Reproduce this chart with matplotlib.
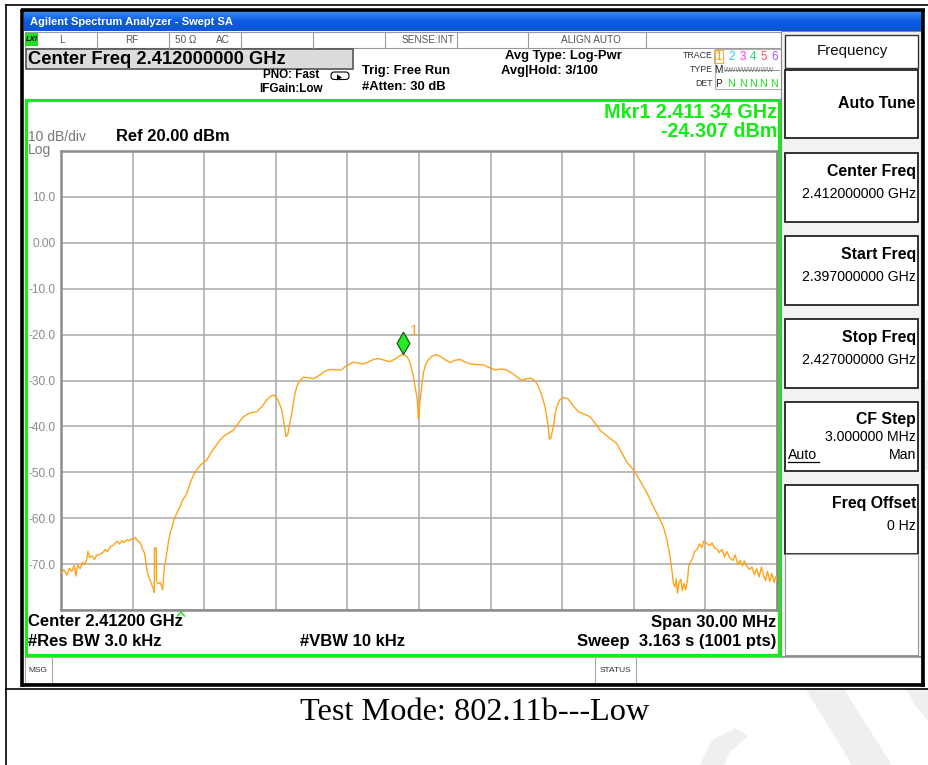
import matplotlib
matplotlib.use("Agg")
import matplotlib.pyplot as plt
import numpy as np
from matplotlib.patches import Rectangle, FancyBboxPatch, Polygon
from matplotlib.markers import MarkerStyle
from matplotlib.colors import LinearSegmentedColormap

plt.rcParams['font.family'] = ['Liberation Sans', 'DejaVu Sans']

W, H = 929, 765

START_MHZ = 2397.0
STOP_MHZ = 2427.0
REF_DBM = 20.0
DB_PER_DIV = 10.0

# swept trace, offset from start frequency (MHz) and level (dBm)
trace_offset_mhz = [
    0.00, 0.12, 0.25, 0.35, 0.45, 0.55, 0.62, 0.70, 0.80, 0.90, 1.00, 1.08, 1.13, 1.20,
    1.30, 1.40, 1.50, 1.62, 1.75, 1.85, 1.95, 2.05, 2.15, 2.25, 2.35, 2.45, 2.55, 2.65,
    2.75, 2.85, 2.95, 3.05, 3.12, 3.22, 3.32, 3.42, 3.50, 3.58, 3.65, 3.72, 3.80, 3.88,
    3.91, 3.92, 3.99, 4.00, 4.08, 4.15, 4.22, 4.26, 4.30, 4.34, 4.38, 4.42, 4.50, 4.58,
    4.64, 4.72, 4.80, 4.90, 4.99, 5.10, 5.20, 5.27, 5.40, 5.55, 5.69, 5.85, 6.00, 6.11,
    6.25, 6.45, 6.66, 6.85, 7.05, 7.22, 7.40, 7.64, 7.90, 8.20, 8.40, 8.62, 8.80, 8.90,
    9.00, 9.10, 9.25, 9.35, 9.43, 9.50, 9.58, 9.67, 9.78, 9.88, 10.00, 10.15, 10.35, 10.57,
    10.72, 10.85, 11.05, 11.27, 11.50, 11.76, 11.90, 12.04, 12.25, 12.45, 12.67, 12.90, 13.10, 13.29,
    13.50, 13.78, 14.00, 14.20, 14.34, 14.50, 14.62, 14.76, 14.86, 14.93, 14.97, 15.00, 15.03, 15.07,
    15.12, 15.18, 15.28, 15.39, 15.52, 15.67, 15.85, 16.05, 16.30, 16.50, 16.72, 16.90, 17.14, 17.40,
    17.69, 17.95, 18.18, 18.45, 18.67, 18.95, 19.30, 19.50, 19.72, 19.88, 20.00, 20.15, 20.28, 20.40,
    20.47, 20.52, 20.63, 20.70, 20.77, 20.90, 21.05, 21.25, 21.45, 21.68, 21.95, 22.17, 22.38, 22.58,
    22.90, 23.28, 23.50, 23.70, 24.05, 24.20, 24.40, 24.60, 24.82, 25.05, 25.24, 25.38, 25.52, 25.60,
    25.66, 25.72, 25.78, 25.83, 25.90, 25.97, 26.03, 26.10, 26.17, 26.25, 26.30, 26.35, 26.45, 26.55,
    26.64, 26.75, 26.85, 26.92, 26.98, 27.08, 27.18, 27.28, 27.38, 27.47, 27.58, 27.70, 27.80, 27.90,
    28.03, 28.15, 28.25, 28.35, 28.45, 28.55, 28.63, 28.73, 28.85, 28.95, 29.05, 29.15, 29.25, 29.35,
    29.43, 29.52, 29.60, 29.70, 29.78, 29.88, 29.95, 30.00,
]
trace_dbm = [
    -72.0, -71.2, -72.4, -70.9, -71.6, -70.3, -72.6, -70.2, -71.0, -69.6, -70.1, -68.9, -67.2, -68.6,
    -68.2, -69.0, -68.0, -67.9, -67.5, -66.8, -67.3, -66.3, -66.0, -65.6, -65.0, -65.6, -64.9, -65.3,
    -64.7, -64.9, -64.5, -64.6, -64.2, -65.0, -65.3, -66.8, -67.6, -70.5, -72.5, -73.3, -74.5, -75.5,
    -76.2, -66.5, -66.5, -73.8, -74.3, -74.0, -74.8, -75.6, -72.5, -70.0, -69.6, -68.0, -65.2, -63.0,
    -62.2, -60.6, -59.5, -58.4, -57.5, -56.0, -55.3, -54.6, -52.5, -50.6, -49.5, -48.4, -47.8, -47.3,
    -46.0, -44.5, -43.0, -42.0, -41.4, -40.8, -39.5, -37.9, -37.1, -36.8, -35.8, -34.2, -33.4, -33.2,
    -33.5, -34.4, -36.4, -39.5, -42.2, -41.8, -39.5, -37.1, -33.5, -31.3, -30.0, -29.3, -29.4, -29.6,
    -29.2, -28.8, -28.0, -27.6, -27.7, -27.7, -27.0, -26.6, -26.0, -26.2, -26.4, -25.9, -25.4, -25.2,
    -25.5, -25.9, -25.3, -24.6, -24.307, -24.8, -26.0, -29.0, -32.0, -34.2, -38.3, -38.3, -35.0, -33.5,
    -31.0, -28.4, -26.5, -25.5, -24.8, -24.4, -24.6, -25.3, -26.1, -25.6, -25.4, -25.9, -26.4, -26.5,
    -26.6, -27.2, -27.7, -27.5, -27.7, -28.6, -30.0, -29.6, -29.5, -30.2, -31.3, -33.3, -35.7, -39.5,
    -42.8, -42.6, -40.0, -37.5, -35.7, -34.2, -33.7, -34.0, -35.5, -36.8, -37.4, -37.9, -39.3, -40.8,
    -42.2, -43.7, -45.8, -47.7, -49.9, -51.3, -53.1, -55.0, -57.5, -59.8, -61.9, -64.5, -68.4, -71.5,
    -74.2, -75.0, -73.2, -76.3, -74.0, -73.3, -75.8, -74.2, -75.6, -73.5, -70.5, -69.8, -68.9, -67.2,
    -66.9, -65.6, -66.4, -65.0, -65.1, -65.6, -66.0, -65.4, -66.5, -66.6, -67.5, -66.8, -68.4, -67.3,
    -68.7, -69.2, -68.0, -70.1, -69.2, -70.4, -69.3, -70.4, -71.2, -70.6, -72.3, -71.0, -72.8, -70.6,
    -72.4, -73.6, -71.5, -73.8, -72.0, -74.0, -72.8, -73.5,
]

mkr_freq_mhz = 2411.34
mkr_dbm = -24.307

y_tick_dbm = [20, 10, 0, -10, -20, -30, -40, -50, -60, -70, -80]
y_tick_labels = ["", "10.0", "0.00", "-10.0", "-20.0", "-30.0", "-40.0", "-50.0", "-60.0", "-70.0", ""]

status_labels = ["L", "RF", "50 \u03a9", "AC", "SENSE:INT", "ALIGN AUTO"]
trace_numbers = ["1", "2", "3", "4", "5", "6"]
trace_colors = ["#ff9900", "#22c8ff", "#ff33ff", "#22dd77", "#ff5555", "#9955ff"]

softkey_titles = ["Auto Tune", "Center Freq", "Start Freq", "Stop Freq", "CF Step", "Freq Offset"]
softkey_values = [None, "2.412000000 GHz", "2.397000000 GHz", "2.427000000 GHz", "3.000000 MHz", "0 Hz"]

GREEN = "#11ee11"
ORANGE = "#ffa31a"


def rect(bg, x0, y0, x1, y1, **kw):
    bg.add_patch(Rectangle((x0, y0), x1 - x0, y1 - y0, **kw))


def draw_page(bg):
    # watermark behind the page
    wm = dict(closed=True, color="#efefef", lw=0, zorder=0)
    bg.add_patch(Polygon([(805, 688), (843, 688), (892, 765), (852, 765)], **wm))
    bg.add_patch(Polygon([(700, 765), (712, 740), (735, 728), (748, 736), (730, 752), (724, 765)], **wm))
    bg.add_patch(Polygon([(905, 688), (929, 688), (929, 722), (915, 705)], **wm))
    bg.add_patch(Polygon([(925, 380), (929, 380), (929, 470), (925, 470)], **wm))
    # table lines
    bg.plot([6.5, 6.5], [5, 765], color="black", lw=1.2, zorder=1)
    bg.plot([6, 929], [5, 5], color="black", lw=1.2, zorder=1)
    bg.plot([6, 929], [688.5, 688.5], color="black", lw=1.2, zorder=1)
    bg.text(474.5, 712, "Test Mode: 802.11b---Low", ha="center", va="center",
            fontsize=23.2, family="Liberation Serif", color="black", zorder=2)


def draw_window(bg):
    rect(bg, 21, 9, 925, 687, facecolor="white", edgecolor="none", zorder=2)
    # title bar
    grad = np.linspace(0, 1, 20).reshape(-1, 1)
    xp = LinearSegmentedColormap.from_list("xp", ["#3d8cf4", "#0a5be0", "#0b55d4"])
    bg.imshow(grad, extent=(24, 922, 31, 11), cmap=xp, aspect="auto", zorder=3)
    bg.text(30, 21.5, "Agilent Spectrum Analyzer - Swept SA", color="white", fontsize=8.0,
            fontweight="bold", va="center", ha="left", zorder=4)
    # thick black frame
    for xs, ys in [([22.5, 22.5], [9, 687]), ([923.5, 923.5], [9, 687]),
                   ([21, 925], [685, 685]), ([21, 925], [10, 10])]:
        bg.plot(xs, ys, color="black", lw=2.6, zorder=5, solid_capstyle="butt")

    # status row
    rect(bg, 25, 32, 781, 47.5, facecolor="white", edgecolor="#9a9a9a", lw=0.8, zorder=3)
    for x in [97, 169, 241, 313, 385, 457, 528, 646]:
        bg.plot([x, x], [32, 47.5], color="#9a9a9a", lw=0.8, zorder=4)
    rect(bg, 25.5, 33, 38.5, 45.5, facecolor="#22dd22", edgecolor="none", zorder=4)
    bg.text(32, 39.5, "LXI", fontsize=5.5, fontweight="bold", style="italic", ha="center",
            va="center", zorder=5)
    for label, x in zip(status_labels, [62, 132, 186, 223, 428, 591]):
        bg.text(x, 40, label, fontsize=7.2, color="#555555", ha="center", va="center", zorder=4)

    # center frequency entry box
    rect(bg, 26, 49, 353, 68.5, facecolor="#dcdcdc", edgecolor="#555555", lw=1.2, zorder=3)
    bg.text(28.5, 59, "Center Freq 2.412000000 GHz", fontsize=13.2, fontweight="bold",
            ha="left", va="center", zorder=4)

    # acquisition settings
    bold = dict(fontweight="bold", zorder=4, va="center")
    bg.text(319, 75, "PNO: Fast", fontsize=8.4, ha="right", **bold)
    bg.text(323, 88.5, "IFGain:Low", fontsize=8.4, ha="right", **bold)
    bg.add_patch(FancyBboxPatch((331, 72), 18, 7.5, boxstyle="round,pad=0,rounding_size=3.5",
                                facecolor="white", edgecolor="black", lw=0.8, zorder=4))
    bg.add_patch(Polygon([(337, 74.5), (342, 77.5), (337, 80.5)], closed=True,
                         facecolor="black", zorder=5))
    bg.text(362, 71, "Trig: Free Run", fontsize=9.4, ha="left", **bold)
    bg.text(362, 87, "#Atten: 30 dB", fontsize=9.4, ha="left", **bold)
    bg.text(505, 56, "Avg Type: Log-Pwr", fontsize=9.4, ha="left", **bold)
    bg.text(501, 70.5, "Avg|Hold: 3/100", fontsize=9.4, ha="left", **bold)

    # trace / detector block
    for label, y in [("TRACE", 55.5), ("TYPE", 69.5), ("DET", 83.5)]:
        bg.text(712.5, y, label, fontsize=6.3, color="#333333", ha="right", va="center", zorder=4)
    rect(bg, 715, 48.5, 781, 89, facecolor="white", edgecolor="#b0b0b0", lw=0.8, zorder=3)
    num_x = [718.5, 731.5, 743, 753, 763.5, 774.5]
    for label, color, x in zip(trace_numbers, trace_colors, num_x):
        bg.text(x, 57, label, fontsize=8.4, color=color, ha="center", va="center", zorder=4)
    rect(bg, 714.5, 49.5, 723, 63, facecolor="none", edgecolor="#ffaa33", lw=0.8, zorder=4)
    bg.text(718.5, 70, "M", fontsize=7.2, color="#222222", ha="center", va="center", zorder=4)
    bg.text(724, 70, "WWWWWWWW", fontsize=4.8, color="#777777", ha="left", va="center", zorder=4)
    bg.plot([724, 779], [70, 70], color="#777777", lw=0.6, zorder=4)
    bg.text(718.5, 83.5, "P", fontsize=7.2, color="#222222", ha="center", va="center", zorder=4)
    for x in num_x[1:]:
        bg.text(x, 83.5, "N", fontsize=7.8, color="#22dd22", ha="center", va="center", zorder=4)


def draw_softkeys(bg):
    rect(bg, 781, 31, 921, 656, facecolor="#f2f2f2", edgecolor="#888888", lw=0.8, zorder=3)
    rect(bg, 785, 35, 918, 68, facecolor="white", edgecolor="#333333", lw=1.0, zorder=4)
    bg.text(852, 51, "Frequency", fontsize=10.9, ha="center", va="center", zorder=5,
            color="#111111")
    boxes = [(69.5, 138), (153, 222), (236, 305), (319, 387.5), (402, 471), (485, 554)]
    for (y0, y1), title, value in zip(boxes, softkey_titles, softkey_values):
        rect(bg, 785, y0, 918, y1, facecolor="white", edgecolor="#222222", lw=1.3, zorder=4)
        if value is None:
            bg.text(916, (y0 + y1) / 2, title, fontsize=11.4, fontweight="bold",
                    ha="right", va="center", zorder=5)
            continue
        ty = y0 + 18 if title != "CF Step" else y0 + 17
        bg.text(916, ty, title, fontsize=11.4, fontweight="bold", ha="right", va="center", zorder=5)
        vy = ty + (23 if title != "CF Step" else 18)
        bg.text(916, vy, value, fontsize=10.2, ha="right", va="center", zorder=5)
    bg.text(788, 455, "Auto", fontsize=10.2, ha="left", va="center", zorder=5)
    bg.plot([788, 819], [461.5, 461.5], color="black", lw=0.9, zorder=5)
    bg.text(916, 455, "Man", fontsize=10.2, ha="right", va="center", zorder=5)
    rect(bg, 785, 554, 918, 655, facecolor="white", edgecolor="#999999", lw=0.8, zorder=4)


def draw_screen_text(bg):
    rect(bg, 26, 99.5, 779.5, 655, facecolor="white", edgecolor=GREEN, lw=2.3, zorder=3)
    bg.text(777, 112, "Mkr1 2.411 34 GHz", color=GREEN, fontsize=14.2, fontweight="bold",
            ha="right", va="center", zorder=6)
    bg.text(777, 131, "%.3f dBm" % mkr_dbm, color=GREEN, fontsize=14.2, fontweight="bold",
            ha="right", va="center", zorder=6)
    bg.text(28, 136.5, "10 dB/div", color="#777777", fontsize=10, ha="left", va="center", zorder=6)
    bg.text(28, 150, "Log", color="#777777", fontsize=10, ha="left", va="center", zorder=6)
    bg.text(116, 136.5, "Ref %.2f dBm" % REF_DBM, fontsize=11.9, fontweight="bold",
            ha="left", va="center", zorder=6)

    bold = dict(fontweight="bold", fontsize=12, va="center", zorder=6)
    bg.text(28, 622, "Center %.5f GHz" % ((START_MHZ + STOP_MHZ) / 2000), ha="left", **bold)
    bg.text(28, 641.5, "#Res BW 3.0 kHz", ha="left", **bold)
    bg.text(300, 641.5, "#VBW 10 kHz", ha="left", **bold)
    bg.text(776, 622, "Span %.2f MHz" % (STOP_MHZ - START_MHZ), ha="right", **bold)
    bg.text(776, 641.5, "Sweep  3.163 s (1001 pts)", ha="right", **bold)
    bg.plot([177.5, 181, 184.5], [616, 612, 616], color=GREEN, lw=1.0, zorder=7)

    # message / status row
    rect(bg, 25, 657, 921, 683, facecolor="white", edgecolor="#aaaaaa", lw=0.8, zorder=3)
    bg.plot([52, 52], [657, 683], color="#aaaaaa", lw=0.8, zorder=4)
    bg.text(28, 670, "MSG", fontsize=6, color="#333333", ha="left", va="center", zorder=4)
    rect(bg, 595, 657, 636.5, 683, facecolor="white", edgecolor="#aaaaaa", lw=0.8, zorder=4)
    bg.text(615.8, 670, "STATUS", fontsize=6, color="#333333", ha="center", va="center", zorder=5)


fig = plt.figure(figsize=(W / 100, H / 100), dpi=100)
bg = fig.add_axes([0, 0, 1, 1])
bg.set_xlim(0, W)
bg.set_ylim(H, 0)
bg.axis("off")

draw_page(bg)
draw_window(bg)
draw_softkeys(bg)
draw_screen_text(bg)

# graticule and trace
ax = fig.add_axes([61 / W, 1 - 610 / H, 716 / W, 459 / H], zorder=5)
freq = [START_MHZ + f for f in trace_offset_mhz]
ax.plot(freq, trace_dbm, color=ORANGE, lw=1.0, zorder=3)

ax.set_xlim(START_MHZ, STOP_MHZ)
ax.set_ylim(REF_DBM - 10 * DB_PER_DIV, REF_DBM)
ax.set_xticks(np.linspace(START_MHZ, STOP_MHZ, 11))
ax.set_yticks(y_tick_dbm)
ax.set_yticklabels(y_tick_labels)
ax.tick_params(length=0, labelbottom=False, labelsize=8.6, labelcolor="#8a8a8a", pad=4)
ax.grid(True, color="#a8a8a8", lw=1.1)
ax.set_axisbelow(True)
for s in ax.spines.values():
    s.set_color("#8c8c8c")
    s.set_linewidth(1.8)

diamond = MarkerStyle(np.array([[0, 0], [0.29, 0.5], [0, 1], [-0.29, 0.5], [0, 0]]))
ax.plot([mkr_freq_mhz], [mkr_dbm], marker=diamond, markersize=32, markerfacecolor="#22ee22",
        markeredgecolor="#114411", markeredgewidth=0.8, linestyle="none", zorder=5, clip_on=False)
ax.annotate("1", (mkr_freq_mhz, mkr_dbm), xytext=(8, 17), textcoords="offset points",
            color=ORANGE, fontsize=11, ha="center", va="center", zorder=6)

fig.savefig("out.png", dpi=100)
